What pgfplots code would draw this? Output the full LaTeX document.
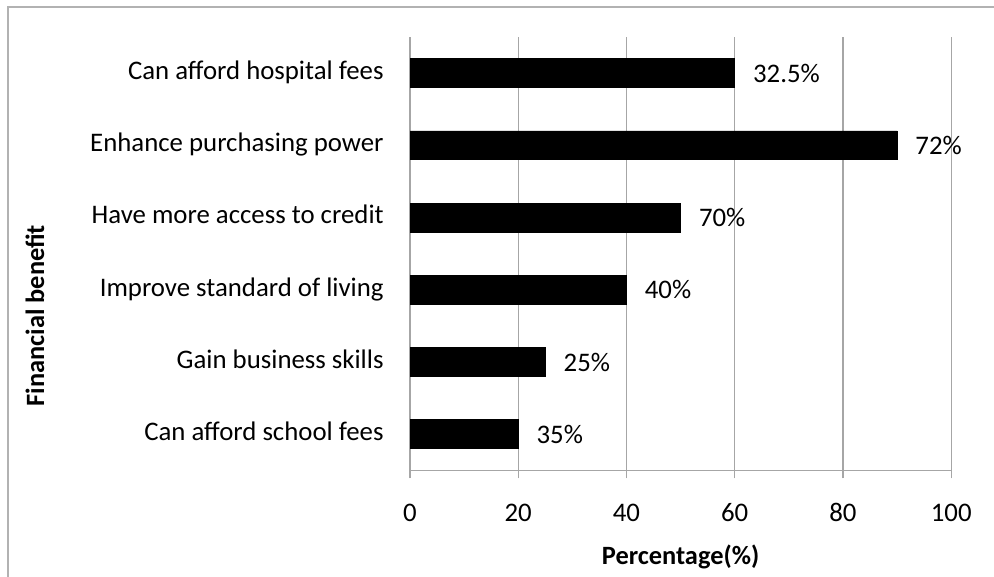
\documentclass[border=0pt]{standalone}
\usepackage{fontspec}
\setmainfont{Carlito}
\usepackage{pgfplots}
\pgfplotsset{compat=1.18}
\usepackage{pgfplotstable}

\pgfplotstableread{
pos value label
5 60 32.5
4 90 72
3 50 70
2 40 40
1 25 25
0 20 35
}\datatable

\begin{document}
\begin{tikzpicture}[x=1pt,y=1pt]
\useasboundingbox (0,0) rectangle (497,288.5);
\draw[gray!60, line width=0.6pt] (4,-10) rectangle (510,285);
\begin{axis}[
  at={(205pt,53.3pt)}, anchor=south west,
  scale only axis, width=270.6pt, height=216.7pt,
  xbar, bar width=0.4, bar shift=0pt,
  xmin=0, xmax=100, ymin=-0.5, ymax=5.5,
  xtick={0,20,...,100}, ytick={0,...,5},
  yticklabels={Can afford school fees, Gain business skills, Improve standard of living, Have more access to credit, Enhance purchasing power, Can afford hospital fees},
  xmajorgrids, major grid style={gray!70, line width=0.6pt},
  axis x line*=bottom, axis y line*=left,
  axis line style={gray!70, line width=0.6pt, -},
  tick align=outside, major tick length=4pt,
  xtick style={gray!70, line width=0.6pt},
  ytick style={draw=none},
  /pgf/number format/assume math mode=true,
  typeset ticklabels with strut,
  tick label style={font=\fontsize{13.4}{16}\selectfont},
  xticklabel style={yshift=-7pt},
  yticklabel style={inner sep=0pt, xshift=-9pt},
  xlabel={Percentage(\%)}, ylabel={Financial benefit},
  label style={font=\bfseries\fontsize{13.2}{15}\selectfont},
  x label style={at={(axis description cs:0.5,-0.199)}, anchor=center},
  y label style={at={(axis description cs:-0.693,0.357)}, anchor=center, rotate=0},
  point meta=explicit symbolic,
  nodes near coords={\pgfplotspointmeta\%},
  nodes near coords style={anchor=west, inner sep=0pt, xshift=9pt, font=\fontsize{13.4}{16}\selectfont, black},
  clip=false,
]
\addplot[fill=black, draw=black] table[x=value, y=pos, meta=label] {\datatable};
\end{axis}
\end{tikzpicture}
\end{document}
